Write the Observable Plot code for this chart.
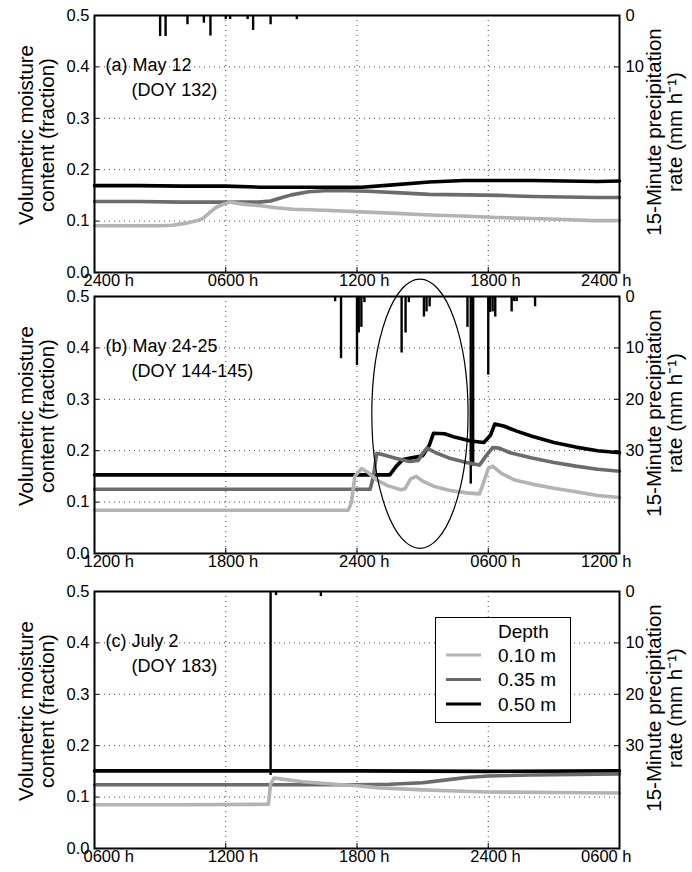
<!DOCTYPE html>
<html><head><meta charset="utf-8">
<script src="https://cdn.jsdelivr.net/npm/d3@7"></script>
<script src="https://cdn.jsdelivr.net/npm/@observablehq/plot@0.6"></script>
<style>
body{margin:0;background:#fff;font-family:"Liberation Sans",Arial,sans-serif;}
#wrap{position:relative;width:692px;height:872px;overflow:hidden;background:#fff;}
.panel{position:absolute;left:0;}
.panel svg{overflow:visible;}
#legend{position:absolute;left:435px;top:617px;width:136px;height:106px;border:1.5px solid #000;background:#fff;box-sizing:border-box;}
</style></head><body><div id="wrap"></div>
<script>
// ---------- data ----------
const hourTicks = [0, 6, 12, 18, 24];
const moistureTicks = [0.0, 0.1, 0.2, 0.3, 0.4, 0.5];
const gridMoisture = [0.1, 0.2, 0.3, 0.4];
const gridHours = [6, 12, 18];
const xLabelsA = ["2400 h", "0600 h", "1200 h", "1800 h", "2400 h"];
const xLabelsB = ["1200 h", "1800 h", "2400 h", "0600 h", "1200 h"];
const xLabelsC = ["0600 h", "1200 h", "1800 h", "2400 h", "0600 h"];
const precipTicksA = [0, 10];
const precipTicksB = [0, 10, 20, 30];
const precipTicksC = [0, 10, 20, 30];
const titleA = ["(a) May 12", "(DOY 132)"];
const titleB = ["(b) May 24-25", "(DOY 144-145)"];
const titleC = ["(c) July 2", "(DOY 183)"];
const depthLabels = ["0.10 m", "0.35 m", "0.50 m"];
const depthColors = ["#b3b3b3", "#6b6b6b", "#000000"];
const yLabel = "Volumetric moisture\ncontent (fraction)";
const y2Label = "15-Minute precipitation\nrate (mm h\u207B\u00B9)";

// panel (a) May 12 — [hour since 2400 h, moisture]
const a10 = [[0,0.091],[1.5,0.091],[3.0,0.091],[3.55,0.092],[4.2,0.096],[4.7,0.101],[4.95,0.105],[5.3,0.118],[5.57,0.127],[5.9,0.133],[6.2,0.137],[6.6,0.134],[7.0,0.132],[7.6,0.130],[8.3,0.126],[9.1,0.123],[10.5,0.121],[12.2,0.118],[13.8,0.115],[15.3,0.112],[16.8,0.110],[18.4,0.107],[20,0.105],[21.5,0.103],[22.8,0.101],[24,0.101]];
const a35 = [[0,0.138],[2,0.138],[4,0.137],[6,0.137],[7.5,0.137],[8.05,0.139],[8.5,0.145],[9.0,0.151],[9.8,0.157],[10.5,0.159],[11.5,0.159],[12.5,0.158],[14,0.155],[15.3,0.152],[17,0.151],[18.5,0.150],[20,0.148],[21.5,0.147],[23,0.146],[24,0.146]];
const a50 = [[0,0.169],[2,0.169],[4,0.168],[6,0.168],[7.6,0.166],[9,0.166],[10.5,0.166],[12.2,0.166],[13.5,0.170],[15.3,0.176],[16.9,0.179],[18.5,0.179],[20,0.179],[21.5,0.178],[23,0.177],[24,0.178]];
const rainA = [[3.0,4.1],[3.25,4.1],[4.25,1.8],[5.0,1.5],[5.3,4.0],[6.0,0.8],[6.2,0.8],[7.0,0.8],[7.25,2.9],[8.05,1.8],[9.25,0.8]];

// panel (b) May 24-25 — [hour since 1200 h]
const b10 = [[0,0.084],[3,0.084],[6,0.084],[9,0.084],[11.6,0.084],[11.75,0.10],[11.9,0.15],[12.2,0.165],[12.5,0.158],[12.9,0.143],[13.4,0.132],[14.0,0.124],[14.2,0.126],[14.45,0.145],[14.7,0.150],[15.0,0.141],[15.5,0.131],[16.2,0.123],[17.0,0.118],[17.6,0.116],[17.8,0.14],[18.0,0.165],[18.2,0.170],[18.6,0.156],[19.2,0.143],[20,0.135],[21,0.127],[22,0.120],[23,0.113],[24,0.109]];
const b35 = [[0,0.125],[6,0.125],[12.6,0.125],[12.75,0.15],[12.9,0.195],[13.2,0.192],[13.8,0.185],[14.4,0.179],[14.8,0.181],[15.0,0.195],[15.2,0.205],[15.6,0.196],[16.2,0.186],[17,0.177],[17.6,0.172],[17.9,0.19],[18.2,0.206],[18.5,0.205],[19,0.196],[20,0.186],[21,0.177],[22,0.170],[23,0.164],[24,0.160]];
const b50 = [[0,0.153],[6,0.153],[12,0.153],[13.5,0.153],[13.8,0.17],[14.1,0.183],[14.5,0.186],[15.0,0.19],[15.3,0.21],[15.5,0.234],[16,0.233],[16.5,0.226],[17.2,0.219],[17.8,0.216],[18.1,0.23],[18.3,0.252],[18.7,0.248],[19.3,0.238],[20,0.228],[21,0.216],[22,0.207],[23,0.200],[24,0.196]];
const rainB = [[11.0,1.0],[11.27,12.1],[12.0,13.4],[12.08,7.1],[12.2,6.0],[12.34,1.2],[14.04,11.0],[14.22,7.1],[14.37,1.2],[15.06,4.0],[15.18,3.0],[15.32,2.0],[17.05,6.0],[17.2,36.5],[17.31,33.0],[18.0,15.3],[18.08,3.1],[18.2,3.0],[18.32,4.0],[19.07,3.0],[19.19,1.0],[19.3,1.0],[20.14,2.0]];
const ellipseB = [14.9, 0.271, 2.2, 0.262]; // centre hour, centre moisture, half-width (h), half-height

// panel (c) July 2 — [hour since 0600 h]
const c10 = [[0,0.085],[4,0.085],[7.95,0.086],[8.05,0.125],[8.2,0.137],[8.6,0.135],[9.5,0.130],[11,0.125],[12,0.122],[13,0.118],[14,0.116],[15,0.114],[16.5,0.112],[18,0.110],[21,0.109],[24,0.108]];
const c35 = [[0,0.124],[6,0.124],[12,0.124],[13.5,0.125],[15,0.128],[16,0.133],[17,0.138],[18,0.141],[20,0.143],[22,0.144],[24,0.145]];
const c50 = [[0,0.151],[12,0.151],[18,0.150],[24,0.151]];
const rainC = [[8.05,35.8],[8.3,0.8],[10.35,1.0]];

// ---------- drawing ----------
const W = 692, mL = 94, mR = 73, mT = 15, innerH = 257, mB = 24;
const FONT = "'Liberation Sans', Arial, Helvetica, sans-serif";

function panel({top, s10, s35, s50, rain, xLabels, precipTicks, title}) {
  const tickX = 24 * 5 / (W - mL - mR), tickY = 0.5 * 5 / innerH;
  const pToY = p => 0.5 - p / 100;
  const idx = xLabels.map((_, i) => i);
  const marks = [
    Plot.ruleY(gridMoisture, {y: d => d, stroke: "#444", strokeWidth: 1, strokeDasharray: "1,4"}),
    Plot.ruleX(gridHours, {x: d => d, stroke: "#444", strokeWidth: 1, strokeDasharray: "1,4"}),
    Plot.ruleY(gridMoisture, {y: d => d, x1: () => 0, x2: () => tickX, stroke: "#000"}),
    Plot.ruleY(precipTicks.filter(p => p > 0), {y: pToY, x1: () => 24 - tickX, x2: () => 24, stroke: "#000"}),
    Plot.ruleX(gridHours, {x: d => d, y1: () => 0, y2: () => tickY, stroke: "#000"}),
    Plot.ruleX(rain, {x: d => d[0], y1: () => 0.5, y2: d => pToY(d[1]), stroke: "#000", strokeWidth: 2.4}),
    Plot.line(s50, {x: d => d[0], y: d => d[1], stroke: depthColors[2], strokeWidth: 3.6, strokeLinejoin: "round"}),
    Plot.line(s35, {x: d => d[0], y: d => d[1], stroke: depthColors[1], strokeWidth: 3.6, strokeLinejoin: "round"}),
    Plot.line(s10, {x: d => d[0], y: d => d[1], stroke: depthColors[0], strokeWidth: 3.6, strokeLinejoin: "round"}),
    Plot.frame({stroke: "#000", strokeWidth: 2}),
    Plot.text(moistureTicks, {y: d => d, text: d => d.toFixed(1), frameAnchor: "left", textAnchor: "end", dx: -5, fontSize: 16.5}),
    Plot.text(precipTicks, {y: pToY, text: d => String(d), frameAnchor: "right", textAnchor: "start", dx: 6, fontSize: 16.5}),
    Plot.text(idx.slice(0, 1), {x: i => hourTicks[i], text: i => xLabels[i], frameAnchor: "bottom", textAnchor: "start", dx: -11, dy: 13, fontSize: 16.5}),
    Plot.text(idx.slice(1, 4), {x: i => hourTicks[i], text: i => xLabels[i], frameAnchor: "bottom", textAnchor: "start", dx: -18, dy: 13, fontSize: 16.5}),
    Plot.text(idx.slice(4), {x: i => hourTicks[i], text: i => xLabels[i], frameAnchor: "bottom", textAnchor: "end", dx: 12, dy: 13, fontSize: 16.5}),
    Plot.text([title[0]], {text: d => d, frameAnchor: "top-left", textAnchor: "start", dx: 11, dy: 42.5, fontSize: 18}),
    Plot.text([title[1]], {text: d => d, frameAnchor: "top-left", textAnchor: "start", dx: 37, dy: 68, fontSize: 18}),
    Plot.text([yLabel], {text: d => d, frameAnchor: "left", textAnchor: "middle", rotate: -90, dx: -58, dy: -9, fontSize: 20.5, lineHeight: 1.05}),
    Plot.text([y2Label], {text: d => d, frameAnchor: "right", textAnchor: "middle", rotate: -90, dx: 45, dy: -12, fontSize: 20.5, lineHeight: 1.05})
  ];
  const svg = Plot.plot({
    width: W, height: mT + innerH + mB,
    marginLeft: mL, marginRight: mR, marginTop: mT, marginBottom: mB,
    x: {domain: [0, 24], axis: null},
    y: {domain: [0, 0.5], axis: null},
    style: {fontFamily: FONT, background: "transparent", overflow: "visible", color: "#000"},
    marks
  });
  const div = document.createElement("div");
  div.className = "panel";
  div.style.top = top + "px";
  div.appendChild(svg);
  document.getElementById("wrap").appendChild(div);
  return svg;
}

panel({top: 0, s10: a10, s35: a35, s50: a50, rain: rainA, xLabels: xLabelsA, precipTicks: precipTicksA, title: titleA});
const svgB = panel({top: 281, s10: b10, s35: b35, s50: b50, rain: rainB, xLabels: xLabelsB, precipTicks: precipTicksB, title: titleB});
panel({top: 576, s10: c10, s35: c35, s50: c50, rain: rainC, xLabels: xLabelsC, precipTicks: precipTicksC, title: titleC});

// ellipse annotation on panel (b), positioned through the plot's scales
(function () {
  const sx = svgB.scale("x"), sy = svgB.scale("y");
  const lin = (s, v) => s.range[0] + (v - s.domain[0]) / (s.domain[1] - s.domain[0]) * (s.range[1] - s.range[0]);
  const [h, m, dh, dm] = ellipseB;
  const cx = lin(sx, h), cy = lin(sy, m);
  const rx = Math.abs(lin(sx, h + dh) - cx), ry = Math.abs(lin(sy, m + dm) - cy);
  const e = document.createElementNS("http://www.w3.org/2000/svg", "ellipse");
  e.setAttribute("cx", cx); e.setAttribute("cy", cy);
  e.setAttribute("rx", rx); e.setAttribute("ry", ry);
  e.setAttribute("fill", "none"); e.setAttribute("stroke", "#000"); e.setAttribute("stroke-width", 1.2);
  svgB.appendChild(e);
})();

// legend inside panel (c)
(function () {
  const lg = document.createElement("div");
  lg.id = "legend";
  const ns = "http://www.w3.org/2000/svg";
  const s = document.createElementNS(ns, "svg");
  s.setAttribute("width", 136); s.setAttribute("height", 106);
  s.style.fontFamily = FONT;
  const t = document.createElementNS(ns, "text");
  t.setAttribute("x", 62); t.setAttribute("y", 13); t.setAttribute("dy", "0.35em");
  t.setAttribute("font-size", 19); t.textContent = "Depth";
  s.appendChild(t);
  depthLabels.forEach((lab, i) => {
    const y = 37 + i * 24.5;
    const l = document.createElementNS(ns, "line");
    l.setAttribute("x1", 10); l.setAttribute("x2", 45); l.setAttribute("y1", y); l.setAttribute("y2", y);
    l.setAttribute("stroke", depthColors[i]); l.setAttribute("stroke-width", 3);
    s.appendChild(l);
    const tx = document.createElementNS(ns, "text");
    tx.setAttribute("x", 62); tx.setAttribute("y", y); tx.setAttribute("dy", "0.35em");
    tx.setAttribute("font-size", 19); tx.textContent = lab;
    s.appendChild(tx);
  });
  lg.appendChild(s);
  document.getElementById("wrap").appendChild(lg);
})();
</script></body></html>
